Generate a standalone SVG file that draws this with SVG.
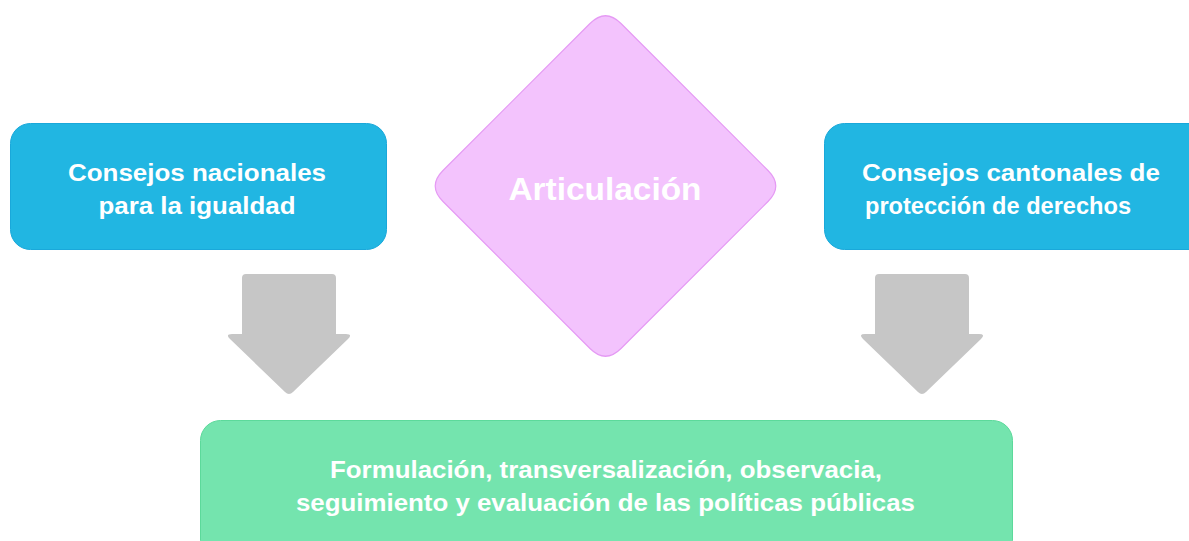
<svg xmlns="http://www.w3.org/2000/svg" width="1189" height="541" viewBox="0 0 1189 541">
<style>
.blue{fill:#21B6E2;stroke:#1AA8DA;stroke-width:1}
.pink{fill:#F3C3FD;stroke:#E59AF4;stroke-width:1.2}
.green{fill:#74E4AE;stroke:#5CD99B;stroke-width:1}
.arrow{fill:#C6C6C6}
.t{font-family:"Liberation Sans",Arial,sans-serif;font-weight:bold;fill:#FFFFFF;text-anchor:middle}
</style>
<rect width="1189" height="541" fill="#FFFFFF"/>
<g id="connectors">
<path id="arrow-left" class="arrow" d="M246 274 L332 274 Q336 274 336 278 L336 334 L346 334 Q353 334 348 339 L293 392 Q289 396 285 392 L230 339 Q225 334 232 334 L242 334 L242 278 Q242 274 246 274 Z"/>
<path id="arrow-right" class="arrow" transform="translate(633 0)" d="M246 274 L332 274 Q336 274 336 278 L336 334 L346 334 Q353 334 348 339 L293 392 Q289 396 285 392 L230 339 Q225 334 232 334 L242 334 L242 278 Q242 274 246 274 Z"/>
</g>
<g id="node-nacionales">
<rect class="blue" x="10.5" y="123.5" width="376" height="126" rx="20"/>
<text class="t" font-size="23"><tspan x="197" y="181" textLength="258" lengthAdjust="spacingAndGlyphs">Consejos nacionales</tspan><tspan x="197" y="214" textLength="197" lengthAdjust="spacingAndGlyphs">para la igualdad</tspan></text>
</g>
<g id="node-articulacion">
<path class="pink" d="M590 23.5 Q605.5 8 621 23.5 L768 170.5 Q783.5 186 768 201.5 L621 348.5 Q605.5 364 590 348.5 L443 201.5 Q427.5 186 443 170.5 Z"/>
<text class="t" font-size="32" x="605" y="200" textLength="193" lengthAdjust="spacingAndGlyphs">Articulación</text>
</g>
<g id="node-cantonales">
<rect class="blue" x="824.5" y="123.5" width="390" height="126" rx="20"/>
<text class="t" font-size="23"><tspan x="1011" y="181" textLength="298" lengthAdjust="spacingAndGlyphs">Consejos cantonales de</tspan><tspan x="998" y="214" textLength="266" lengthAdjust="spacingAndGlyphs">protección de derechos</tspan></text>
</g>
<g id="node-formulacion">
<rect class="green" x="200.5" y="420.5" width="812" height="140" rx="20"/>
<text class="t" font-size="24"><tspan x="606" y="478" textLength="552" lengthAdjust="spacingAndGlyphs">Formulación, transversalización, observacia,</tspan><tspan x="605.5" y="511" textLength="619" lengthAdjust="spacingAndGlyphs">seguimiento y evaluación de las políticas públicas</tspan></text>
</g>
</svg>
